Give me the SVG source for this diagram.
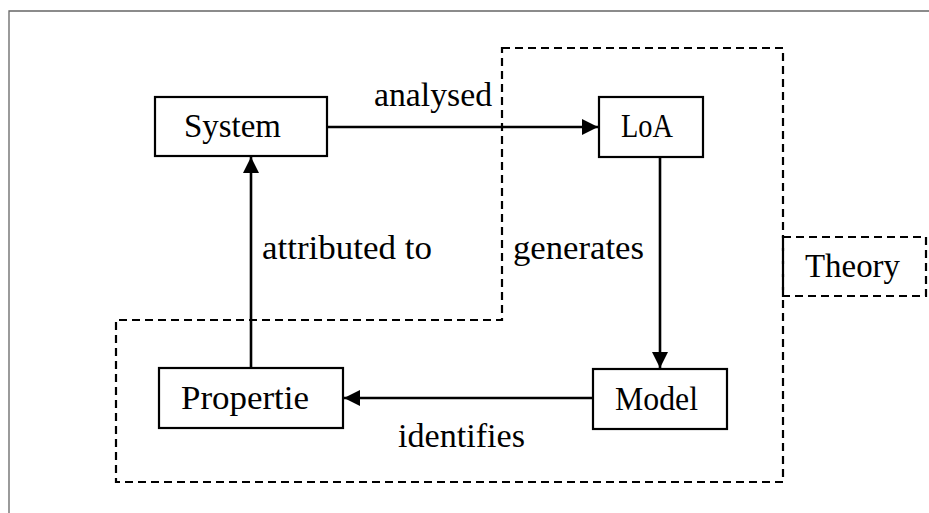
<svg xmlns="http://www.w3.org/2000/svg" width="929" height="513" viewBox="0 0 929 513">
<style>
.box{fill:#fff;stroke:#000;stroke-width:2.2}
.dash{fill:none;stroke:#000;stroke-width:2.2;stroke-dasharray:8,5}
.conn{fill:none;stroke:#000;stroke-width:2.6}
text{font-family:"Liberation Serif","Times New Roman",serif;font-size:33px;fill:#000}
</style>
<defs>
<marker id="ah" markerWidth="18" markerHeight="18" refX="16" refY="8" orient="auto" markerUnits="userSpaceOnUse">
<path d="M0,0 L16,8 L0,16 Z" fill="#000"/>
</marker>
</defs>
<rect width="929" height="513" fill="#fff"/>
<path d="M929,11 H9 V513" fill="none" stroke="#666" stroke-width="1.3"/>
<g id="scope">
<path class="dash" d="M502,48 H783 V482 H116 V320 H502 Z"/>
</g>
<g id="connectors">
<line class="conn" x1="327" y1="127" x2="598" y2="127" marker-end="url(#ah)"/>
<line class="conn" x1="660" y1="157" x2="660" y2="368" marker-end="url(#ah)"/>
<line class="conn" x1="593" y1="398" x2="344" y2="398" marker-end="url(#ah)"/>
<line class="conn" x1="251" y1="368" x2="251" y2="157" marker-end="url(#ah)"/>
<text x="374" y="106" textLength="118" lengthAdjust="spacingAndGlyphs">analysed</text>
<text x="513" y="259" textLength="131" lengthAdjust="spacingAndGlyphs">generates</text>
<text x="398" y="447" textLength="127" lengthAdjust="spacingAndGlyphs">identifies</text>
<text x="262" y="259" textLength="170" lengthAdjust="spacingAndGlyphs">attributed to</text>
</g>
<g id="system">
<rect class="box" x="155" y="97" width="172" height="59"/>
<text x="184" y="137" textLength="97" lengthAdjust="spacingAndGlyphs">System</text>
</g>
<g id="loa">
<rect class="box" x="599" y="97" width="104" height="60"/>
<text x="621" y="137" textLength="52" lengthAdjust="spacingAndGlyphs">LoA</text>
</g>
<g id="model">
<rect class="box" x="593" y="369" width="134" height="60"/>
<text x="615" y="410" textLength="83" lengthAdjust="spacingAndGlyphs">Model</text>
</g>
<g id="propertie">
<rect class="box" x="159" y="368" width="184" height="60"/>
<text x="181" y="409" textLength="128" lengthAdjust="spacingAndGlyphs">Propertie</text>
</g>
<g id="theory">
<rect class="dash" x="783" y="237" width="143" height="59" fill="#fff"/>
<text x="805" y="277" textLength="95" lengthAdjust="spacingAndGlyphs">Theory</text>
</g>
</svg>
